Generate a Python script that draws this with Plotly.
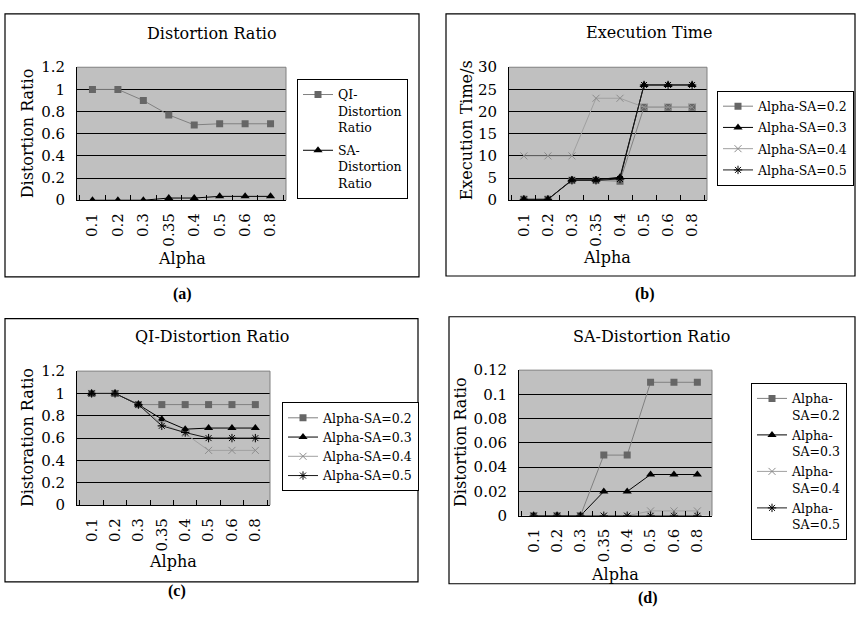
import plotly.graph_objects as go

W, H = 856, 617

alpha = ["0.1", "0.2", "0.3", "0.35", "0.4", "0.5", "0.6", "0.8"]

# (a) Distortion Ratio
a_qi = [1, 1, 0.9, 0.77, 0.68, 0.69, 0.69, 0.69]
a_sa = [0, 0, 0, 0.02, 0.02, 0.035, 0.035, 0.035]

# (b) Execution Time
b_02 = [0.2, 0.2, 4.5, 4.5, 4.3, 21, 21, 21]
b_03 = [0.2, 0.2, 4.6, 4.6, 5.2, 26, 26, 26]
b_04 = [10, 10, 10, 23, 23, 21, 21, 21]
b_05 = [0.2, 0.2, 4.5, 4.5, 4.8, 26, 26, 26]

# (c) QI-Distortion Ratio
c_02 = [1, 1, 0.9, 0.9, 0.9, 0.9, 0.9, 0.9]
c_03 = [1, 1, 0.9, 0.77, 0.68, 0.69, 0.69, 0.69]
c_04 = [1, 1, 0.9, 0.73, 0.64, 0.49, 0.49, 0.49]
c_05 = [1, 1, 0.9, 0.71, 0.65, 0.6, 0.6, 0.6]

# (d) SA-Distortion Ratio
d_02 = [0, 0, 0, 0.05, 0.05, 0.11, 0.11, 0.11]
d_03 = [0, 0, 0, 0.02, 0.02, 0.034, 0.034, 0.034]
d_04 = [0, 0, 0, 0, 0, 0.004, 0.004, 0.004]
d_05 = [0, 0, 0, 0, 0, 0, 0, 0]

yt_ratio = [0, 0.2, 0.4, 0.6, 0.8, 1, 1.2]
yt_time = [0, 5, 10, 15, 20, 25, 30]
yt_sa = [0, 0.02, 0.04, 0.06, 0.08, 0.1, 0.12]

FONT = "DejaVu Serif"
FS_T = 16     # titles
FS_K = 15     # tick labels
FS_L = 12.5   # legend


def px(x):
    return x / W


def py(y):
    return 1 - y / H


STYLES = {
    "sq": dict(line=dict(color="#808080", width=1),
               marker=dict(symbol="square", size=7, color="#666666")),
    "tri": dict(line=dict(color="#000000", width=1),
                marker=dict(symbol="triangle-up", size=8, color="#000000")),
    "x": dict(line=dict(color="#a0a0a0", width=1),
              marker=dict(symbol="x-thin", size=7, color="#8c8c8c",
                          line=dict(color="#8c8c8c", width=1))),
    "ast": dict(line=dict(color="#1a1a1a", width=1),
                marker=dict(symbol="asterisk", size=7, color="#000000",
                            line=dict(color="#000000", width=1))),
}

fig = go.Figure()

panels = [
    (1, (77, 286, 60, 197), yt_ratio,
     [("QI-<br>Distortion<br>Ratio", a_qi, "sq"), ("SA-<br>Distortion<br>Ratio", a_sa, "tri")],
     (297, 72), 4),
    (2, (509, 707, 60, 197), yt_time,
     [("Alpha-SA=0.2", b_02, "sq"), ("Alpha-SA=0.3", b_03, "tri"),
      ("Alpha-SA=0.4", b_04, "x"), ("Alpha-SA=0.5", b_05, "ast")],
     (717, 84), 2),
    (3, (77, 270, 373, 511), yt_ratio,
     [("Alpha-SA=0.2", c_02, "sq"), ("Alpha-SA=0.3", c_03, "tri"),
      ("Alpha-SA=0.4", c_04, "x"), ("Alpha-SA=0.5", c_05, "ast")],
     (282, 405), 0),
    (4, (519, 712, 372, 522), yt_sa,
     [("Alpha-<br>SA=0.2", d_02, "sq"), ("Alpha-<br>SA=0.3", d_03, "tri"),
      ("Alpha-<br>SA=0.4", d_04, "x"), ("Alpha-<br>SA=0.5", d_05, "ast")],
     (751, 385), 1),
]

layout = dict(
    width=W, height=H, margin=dict(l=0, r=0, t=0, b=0),
    paper_bgcolor="white", plot_bgcolor="#c0c0c0",
    font=dict(family=FONT, size=FS_T, color="black"),
    shapes=[], annotations=[],
)

for idx, (x0, x1, y0, y1), yt, series, (lx, ly), gap in panels:
    sfx = "" if idx == 1 else str(idx)
    leg = "legend" if idx == 1 else f"legend{idx}"
    for k, (name, vals, st) in enumerate(series):
        fig.add_trace(go.Scatter(
            x=alpha, y=vals, name=name, mode="lines+markers",
            xaxis=f"x{sfx}", yaxis=f"y{sfx}", legend=leg,
            legendgroup=f"g{idx}_{k}", **STYLES[st]))
    layout[f"xaxis{sfx}"] = dict(
        domain=[px(x0), px(x1)], anchor=f"y{sfx}", type="category",
        categoryorder="array", categoryarray=alpha, tickson="boundaries",
        ticks="inside", ticklen=5, tickcolor="black", tickwidth=1,
        showline=True, linecolor="black", linewidth=1, showgrid=False,
        tickangle=-90, tickfont=dict(family=FONT, size=FS_K), ticklabelstandoff=6,
        fixedrange=True,
    )
    layout[f"yaxis{sfx}"] = dict(
        domain=[py(y1), py(y0)], anchor=f"x{sfx}", range=[yt[0], yt[-1]],
        tickmode="array", tickvals=yt, ticks="", showline=True,
        linecolor="black", linewidth=1, showgrid=True, gridcolor="black",
        gridwidth=1, zeroline=False, tickfont=dict(family=FONT, size=FS_K),
        ticklabelstandoff=8, fixedrange=True,
    )
    layout[leg] = dict(
        x=px(lx), y=py(ly), xanchor="left", yanchor="top",
        bordercolor="black", borderwidth=1, bgcolor="white",
        font=dict(family=FONT, size=FS_L), valign="top",
        tracegroupgap=gap, itemwidth=30,
    )
    for (ax0, ay0, ax1, ay1) in [(0, 1, 1, 1), (1, 0, 1, 1)]:
        layout["shapes"].append(dict(
            type="line", xref=f"x{sfx} domain", yref=f"y{sfx} domain",
            x0=ax0, y0=ay0, x1=ax1, y1=ay1,
            line=dict(color="#808080", width=1), layer="above"))

frames = [(5, 5, 419, 276), (446, 5, 855, 275), (5, 319, 418, 590), (449, 317, 855, 592)]
for (fx0, fy0, fx1, fy1) in frames:
    layout["shapes"].append(dict(
        type="rect", xref="paper", yref="paper",
        x0=px(fx0), y0=py(fy1), x1=px(fx1), y1=py(fy0),
        line=dict(color="black", width=1.2), layer="below"))


def ann(text, x, y, angle=0, size=FS_T, family=FONT):
    layout["annotations"].append(dict(
        text=text, x=px(x), y=py(y), xref="paper", yref="paper",
        xanchor="center", yanchor="middle", showarrow=False, textangle=angle,
        font=dict(family=family, size=size, color="black")))


ann("Distortion Ratio", 212, 25)
ann("Execution Time", 649, 24)
ann("QI-Distortion Ratio", 212, 337)
ann("SA-Distortion Ratio", 652, 337)
ann("Distortion Ratio", 27, 128, -90)
ann("Execution Time/s", 466, 125, -90)
ann("Distoration Ratio", 27, 442, -90)
ann("Distortion Ratio", 461, 446, -90)
ann("Alpha", 182, 257)
ann("Alpha", 607, 256)
ann("Alpha", 173, 569)
ann("Alpha", 615, 582)
ann("<b>(a)</b>", 182, 294, size=16, family="Liberation Serif")
ann("<b>(b)</b>", 645, 294, size=16, family="Liberation Serif")
ann("<b>(c)</b>", 177, 600, size=16, family="Liberation Serif")
ann("<b>(d)</b>", 648, 607, size=16, family="Liberation Serif")

fig.update_layout(**layout)
fig.write_html("out.html", config={"displayModeBar": False},
               post_script="document.body.style.margin='0';document.body.style.overflow='hidden';")
